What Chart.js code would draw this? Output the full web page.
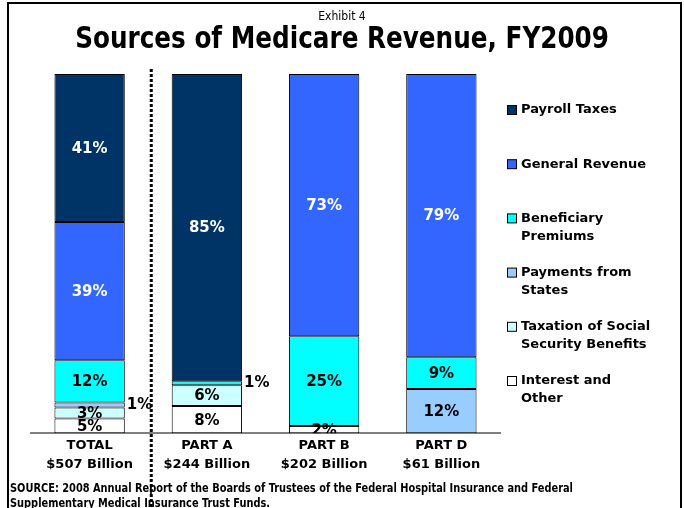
<!DOCTYPE html>
<html>
<head>
<meta charset="utf-8">
<script src="https://cdn.jsdelivr.net/npm/chart.js@4"></script>
<style>
  body { margin: 0; background: #fff; }
  #wrap { position: relative; width: 684px; height: 508px; overflow: hidden; }
  #frame { position: absolute; left: 7px; top: 2px; width: 675px; height: 600px; border: 2px solid #000; box-sizing: border-box; }
  canvas { position: absolute; left: 0; top: 0; }
  .txt { position: absolute; color: #000; white-space: nowrap; }
  #exhibit { left: 0; width: 684px; top: 9px; text-align: center; font: 12px 'DejaVu Sans Condensed', sans-serif; }
  #title { left: 0; width: 684px; top: 20px; text-align: center; font: bold 30px 'DejaVu Sans Condensed', sans-serif; transform: scaleX(0.915); transform-origin: 343px 0; }
  #source { left: 10px; top: 481px; font: bold 12px/15px 'DejaVu Sans Condensed', sans-serif; transform: scaleX(0.91); transform-origin: 0 0; }
</style>
</head>
<body>
<div id="wrap">
  <canvas id="revenueChart" width="684" height="508"></canvas>
  <div id="frame"></div>
  <div class="txt" id="exhibit">Exhibit 4</div>
  <div class="txt" id="title">Sources of Medicare Revenue, FY2009</div>
  <div class="txt" id="source">SOURCE: 2008 Annual Report of the Boards of Trustees of the Federal Hospital Insurance and Federal<br>Supplementary Medical Insurance Trust Funds.</div>
</div>
<script>
// categorias (duas linhas cada)
const categories = [['TOTAL', '$507 Billion'], ['PART A', '$244 Billion'], ['PART B', '$202 Billion'], ['PART D', '$61 Billion']];

const payrollTaxes   = [41.2, 85.5, 0, 0];
const generalRevenue = [38.5, 0, 73.0, 78.8];
const premiums       = [11.7, 1.1, 25.0, 8.9];
const statePayments  = [1.4, 0, 0, 12.3];
const ssTaxation     = [3.1, 5.8, 0, 0];
const interestOther  = [4.1, 7.6, 2.0, 0];

// rótulos impressos nas barras
const payrollLabels  = ['41%', '85%', '', ''];
const generalLabels  = ['39%', '', '73%', '79%'];
const premiumLabels  = ['12%', '1%', '25%', '9%'];
const stateLabels    = ['1%', '', '', '12%'];
const taxationLabels = ['3%', '6%', '', ''];
const interestLabels = ['5%', '8%', '2%', ''];

const fontBold = "'DejaVu Sans', Verdana, sans-serif";

// Rótulos dentro / ao lado das barras
const valueLabels = {
    id: 'valueLabels',
    afterDatasetsDraw(chart) {
        const ctx = chart.ctx;
        const area = chart.chartArea;
        chart.data.datasets.forEach((ds, i) => {
            const meta = chart.getDatasetMeta(i);
            meta.data.forEach((bar, j) => {
                const text = ds.valueLabels[j];
                if (!text) return;
                const p = bar.getProps(['x', 'y', 'base', 'width'], true);
                const cy = (p.y + p.base) / 2;
                ctx.save();
                ctx.font = 'bold 15px ' + fontBold;
                ctx.textBaseline = 'middle';
                if (ds.outside.includes(j)) {
                    ctx.fillStyle = '#000';
                    ctx.textAlign = 'left';
                    ctx.fillText(text, p.x + p.width / 2 + 2, cy);
                } else {
                    ctx.beginPath();
                    ctx.rect(area.left, area.top, area.right - area.left, area.bottom - area.top);
                    ctx.clip();
                    ctx.fillStyle = ds.textColor;
                    ctx.textAlign = 'center';
                    ctx.fillText(text, p.x, cy + 1);
                }
                ctx.restore();
            });
        });
    }
};

// Linha pontilhada entre TOTAL e PART A
const divider = {
    id: 'divider',
    beforeDatasetsDraw(chart) {
        const x = chart.scales.x;
        const xm = (x.getPixelForValue(0) + x.getPixelForValue(1)) / 2 + 3;
        const ctx = chart.ctx;
        ctx.save();
        ctx.strokeStyle = '#000';
        ctx.lineWidth = 3;
        ctx.setLineDash([3, 2]);
        ctx.beginPath();
        ctx.moveTo(xm, 69);
        ctx.lineTo(xm, chart.height);
        ctx.stroke();
        ctx.restore();
    }
};

// Legenda à direita, com quebras de linha (ordem inversa da pilha)
const sideLegend = {
    id: 'sideLegend',
    afterDraw(chart) {
        const ctx = chart.ctx;
        const sets = chart.data.datasets.slice().reverse();
        ctx.save();
        ctx.font = 'bold 13px ' + fontBold;
        ctx.textBaseline = 'middle';
        ctx.textAlign = 'left';
        sets.forEach((ds, i) => {
            const y = 110 + i * 54.2;
            ctx.fillStyle = ds.backgroundColor;
            ctx.fillRect(507.5, y - 4.5, 9, 9);
            ctx.strokeStyle = '#000';
            ctx.lineWidth = 1;
            ctx.strokeRect(507.5, y - 4.5, 9, 9);
            ctx.fillStyle = '#000';
            ds.legendLines.forEach((line, k) => {
                ctx.fillText(line, 521, y + k * 18);
            });
        });
        ctx.restore();
    }
};

function makeSet(lines, data, color, labels, textColor, outside) {
    return {
        label: lines.join(' '),
        legendLines: lines,
        data: data,
        backgroundColor: color,
        borderColor: '#000',
        borderWidth: 1,
        borderSkipped: false,
        valueLabels: labels,
        textColor: textColor,
        outside: outside || []
    };
}

const ctx = document.getElementById('revenueChart').getContext('2d');
new Chart(ctx, {
    type: 'bar',
    data: {
        labels: categories,
        // de baixo para cima
        datasets: [
            makeSet(['Interest and', 'Other'], interestOther, '#FFFFFF', interestLabels, '#000'),
            makeSet(['Taxation of Social', 'Security Benefits'], ssTaxation, '#CCFFFF', taxationLabels, '#000'),
            makeSet(['Payments from', 'States'], statePayments, '#99CCFF', stateLabels, '#000', [0]),
            makeSet(['Beneficiary', 'Premiums'], premiums, '#00FFFF', premiumLabels, '#000', [1]),
            makeSet(['General Revenue'], generalRevenue, '#3366FF', generalLabels, '#fff'),
            makeSet(['Payroll Taxes'], payrollTaxes, '#003366', payrollLabels, '#fff'),
        ],
    },
    options: {
        responsive: false,
        animation: false,
        barPercentage: 0.6,
        categoryPercentage: 1,
        layout: { padding: { left: 31, right: 184, top: 74, bottom: 31 } },
        plugins: {
            legend: { display: false },
            tooltip: { enabled: false },
        },
        scales: {
            x: {
                stacked: true,
                grid: { display: false, drawTicks: false },
                border: { display: true, color: '#808080', width: 2 },
                ticks: {
                    color: '#000',
                    padding: 3,
                    font: { family: fontBold, size: 13, weight: 'bold', lineHeight: 1.45 },
                },
            },
            y: {
                stacked: true,
                display: false,
                min: 0,
                max: 100,
            },
        },
    },
    plugins: [divider, valueLabels, sideLegend],
});
</script>
</body>
</html>
